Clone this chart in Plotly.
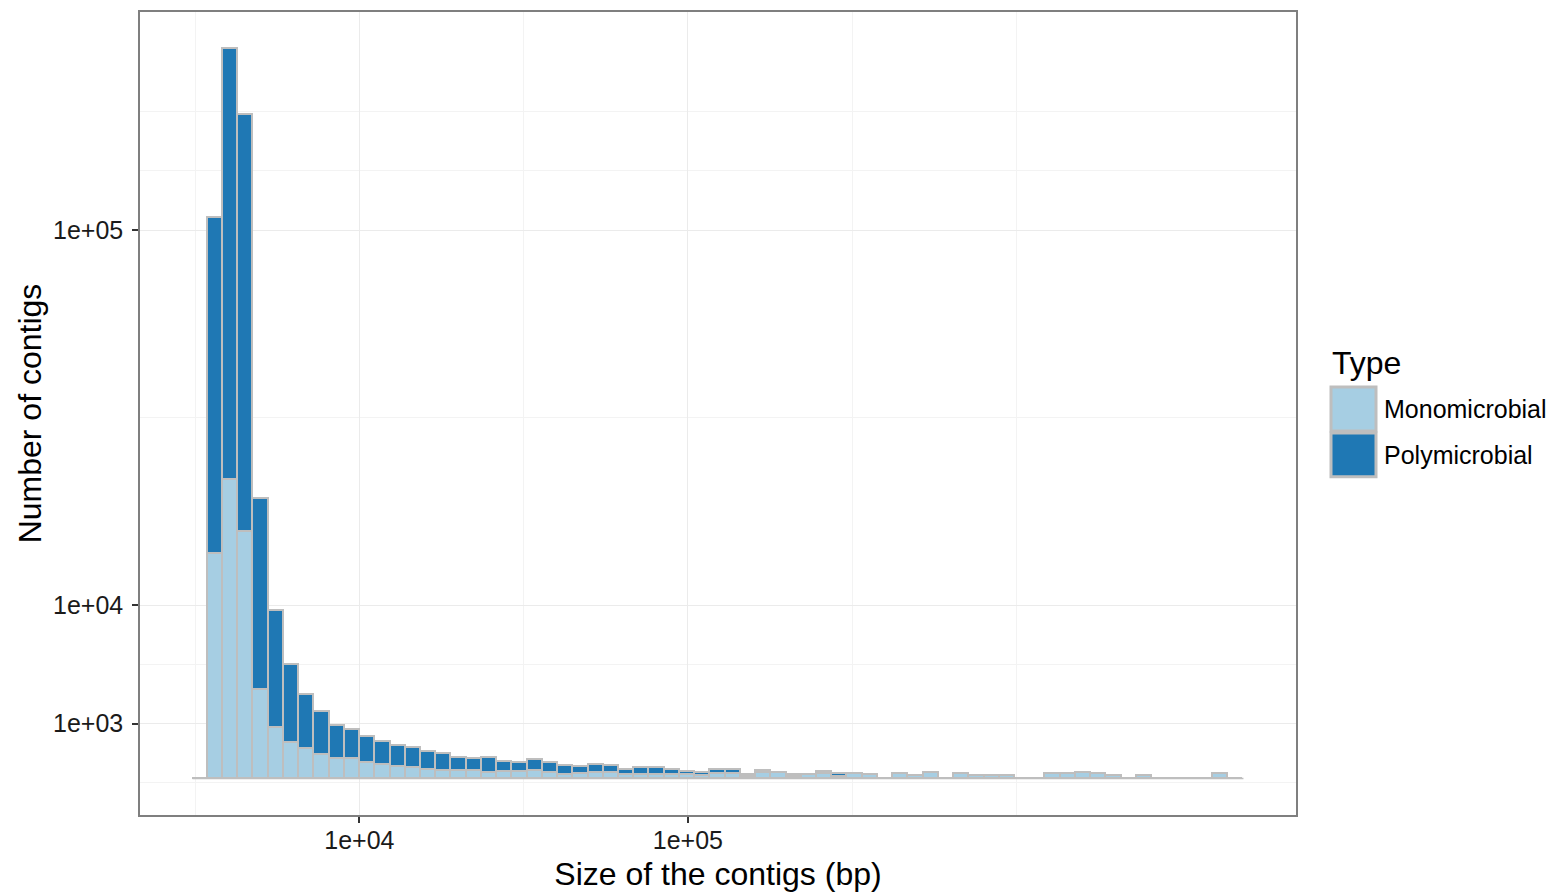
import numpy as np
import plotly.graph_objects as go

# Histogram of contig sizes: log-spaced bins (one empty pad bin at each end)
BIN_EDGE_FIRST_BP = 3107
BIN_EDGE_LAST_BP = 4_906_000
N_BINS = 69

# Contig counts per bin
monomicrobial = [0, 16790, 29580, 20230, 2620, 850, 429, 292, 190, 123, 123, 85, 65, 42, 38,
                 25, 21, 18, 18, 9, 13, 13, 18, 9, 5, 7, 9, 9, 5, 5, 5, 5, 5, 2, 8, 7, 1, 10,
                 9, 1, 4, 7, 1, 7, 4, 0, 7, 2, 11, 0, 7, 2, 2, 2, 0, 0, 6, 6, 11, 6, 2, 0, 2,
                 0, 0, 0, 0, 6, 0]
polymicrobial = [0, 37500, 62020, 57720, 12160, 4550, 2013, 975, 612, 360, 292, 212, 175, 146, 132,
                 102, 92, 59, 48, 78, 38, 31, 45, 36, 25, 18, 23, 20, 7, 15, 13, 7, 3, 4, 5, 4, 1, 2,
                 0, 1, 0, 1, 2, 0, 0, 0, 0, 0, 0, 0, 0, 0, 0, 0, 0, 0, 0, 0, 0, 0, 0, 0, 0,
                 0, 0, 0, 0, 0, 0]

x_breaks = [1e4, 1e5]
x_labels = ["1e+04", "1e+05"]
y_breaks = [1e3, 1e4, 1e5]
y_labels = ["1e+03", "1e+04", "1e+05"]

type_names = ["Monomicrobial", "Polymicrobial"]
type_colors = ["#A6CEE3", "#1F78B4"]
OUTLINE = "#BEBEBE"

# log10 x scale, sqrt y scale (counts stacked on the transformed scale)
edges = np.linspace(np.log10(BIN_EDGE_FIRST_BP), np.log10(BIN_EDGE_LAST_BP), N_BINS + 1)
centers = (edges[:-1] + edges[1:]) / 2
width = edges[1] - edges[0]
mono_t = np.sqrt(np.array(monomicrobial, dtype=float))
poly_t = np.sqrt(np.array(polymicrobial, dtype=float))

x_major = np.log10(x_breaks)
y_major = np.sqrt(y_breaks)


def minor_breaks(b, lo, hi):
    # midpoints between major breaks, extended by one step towards the limits
    b = list(b)
    step = b[1] - b[0]
    if lo < b[0]:
        b = [b[0] - step] + b
    if hi > b[-1]:
        b = b + [b[-1] + step]
    mids = [(a + c) / 2 for a, c in zip(b[:-1], b[1:])]
    return [m for m in mids + [b[-1]] if lo <= m <= hi and m not in list(x_major) + list(y_major)]


span_x = edges[-1] - edges[0]
x_range = [edges[0] - 0.05 * span_x, edges[-1] + 0.05 * span_x]
top = (mono_t + poly_t).max()
y_range = [-0.05 * top, top * 1.05]

fig = go.Figure()
fig.add_trace(go.Scatter(x=[edges[0], edges[-1]], y=[0, 0], mode="lines",
                         line=dict(color=OUTLINE, width=1.6), hoverinfo="skip", showlegend=False))
for name, vals, col in zip(type_names, [mono_t, poly_t], type_colors):
    fig.add_trace(go.Bar(x=centers, y=vals, width=width, name=name,
                         marker=dict(color=col, line=dict(color=OUTLINE, width=1.6)),
                         showlegend=False))

L, R, T, B = 140, 254, 10, 81
W, H = 1550, 896
pw, ph = W - L - R, H - T - B


def px(xp):
    return (xp - L) / pw


def py(yp):
    return (H - B - yp) / ph


shapes = []
annotations = []
annotations.append(dict(text="Type", x=px(1330), y=py(362), xref="paper", yref="paper",
                        xanchor="left", yanchor="middle", showarrow=False,
                        font=dict(size=32, color="black")))
for i, (name, col) in enumerate(zip(type_names, type_colors)):
    y0 = 385 + 46 * i
    shapes.append(dict(type="rect", xref="paper", yref="paper",
                       x0=px(1331), x1=px(1376), y0=py(y0 + 1), y1=py(y0 + 45),
                       fillcolor=col, line=dict(color=OUTLINE, width=3)))
    annotations.append(dict(text=name, x=px(1382), y=py(y0 + 23), xref="paper", yref="paper",
                            xanchor="left", yanchor="middle", showarrow=False,
                            font=dict(size=25, color="black")))

axis_common = dict(showline=True, mirror=True, linecolor="#7F7F7F", linewidth=1.5,
                   ticks="outside", ticklen=6, tickwidth=1.5, tickcolor="#333333",
                   gridcolor="#EBEBEB", gridwidth=1, zeroline=False,
                   tickfont=dict(size=25, color="#1A1A1A"))

fig.update_layout(
    width=W, height=H, margin=dict(l=L, r=R, t=T, b=B),
    paper_bgcolor="white", plot_bgcolor="white",
    barmode="stack", bargap=0,
    font=dict(family="Liberation Sans, Arial, sans-serif", color="black"),
    shapes=shapes, annotations=annotations,
    xaxis=dict(range=x_range, tickvals=x_major, ticktext=x_labels, ticklabelstandoff=-4,
               minor=dict(tickvals=minor_breaks(x_major, *x_range), showgrid=True,
                          gridcolor="#F3F3F3", gridwidth=1, ticks=""),
               title=dict(text="Size of the contigs (bp)", font=dict(size=32), standoff=10),
               **axis_common),
    yaxis=dict(range=y_range, tickvals=y_major, ticktext=y_labels, ticklabelstandoff=4,
               minor=dict(tickvals=minor_breaks(y_major, *y_range), showgrid=True,
                          gridcolor="#F3F3F3", gridwidth=1, ticks=""),
               title=dict(text="Number of contigs", font=dict(size=32), standoff=2),
               **axis_common),
)

fig.write_html("out.html")
